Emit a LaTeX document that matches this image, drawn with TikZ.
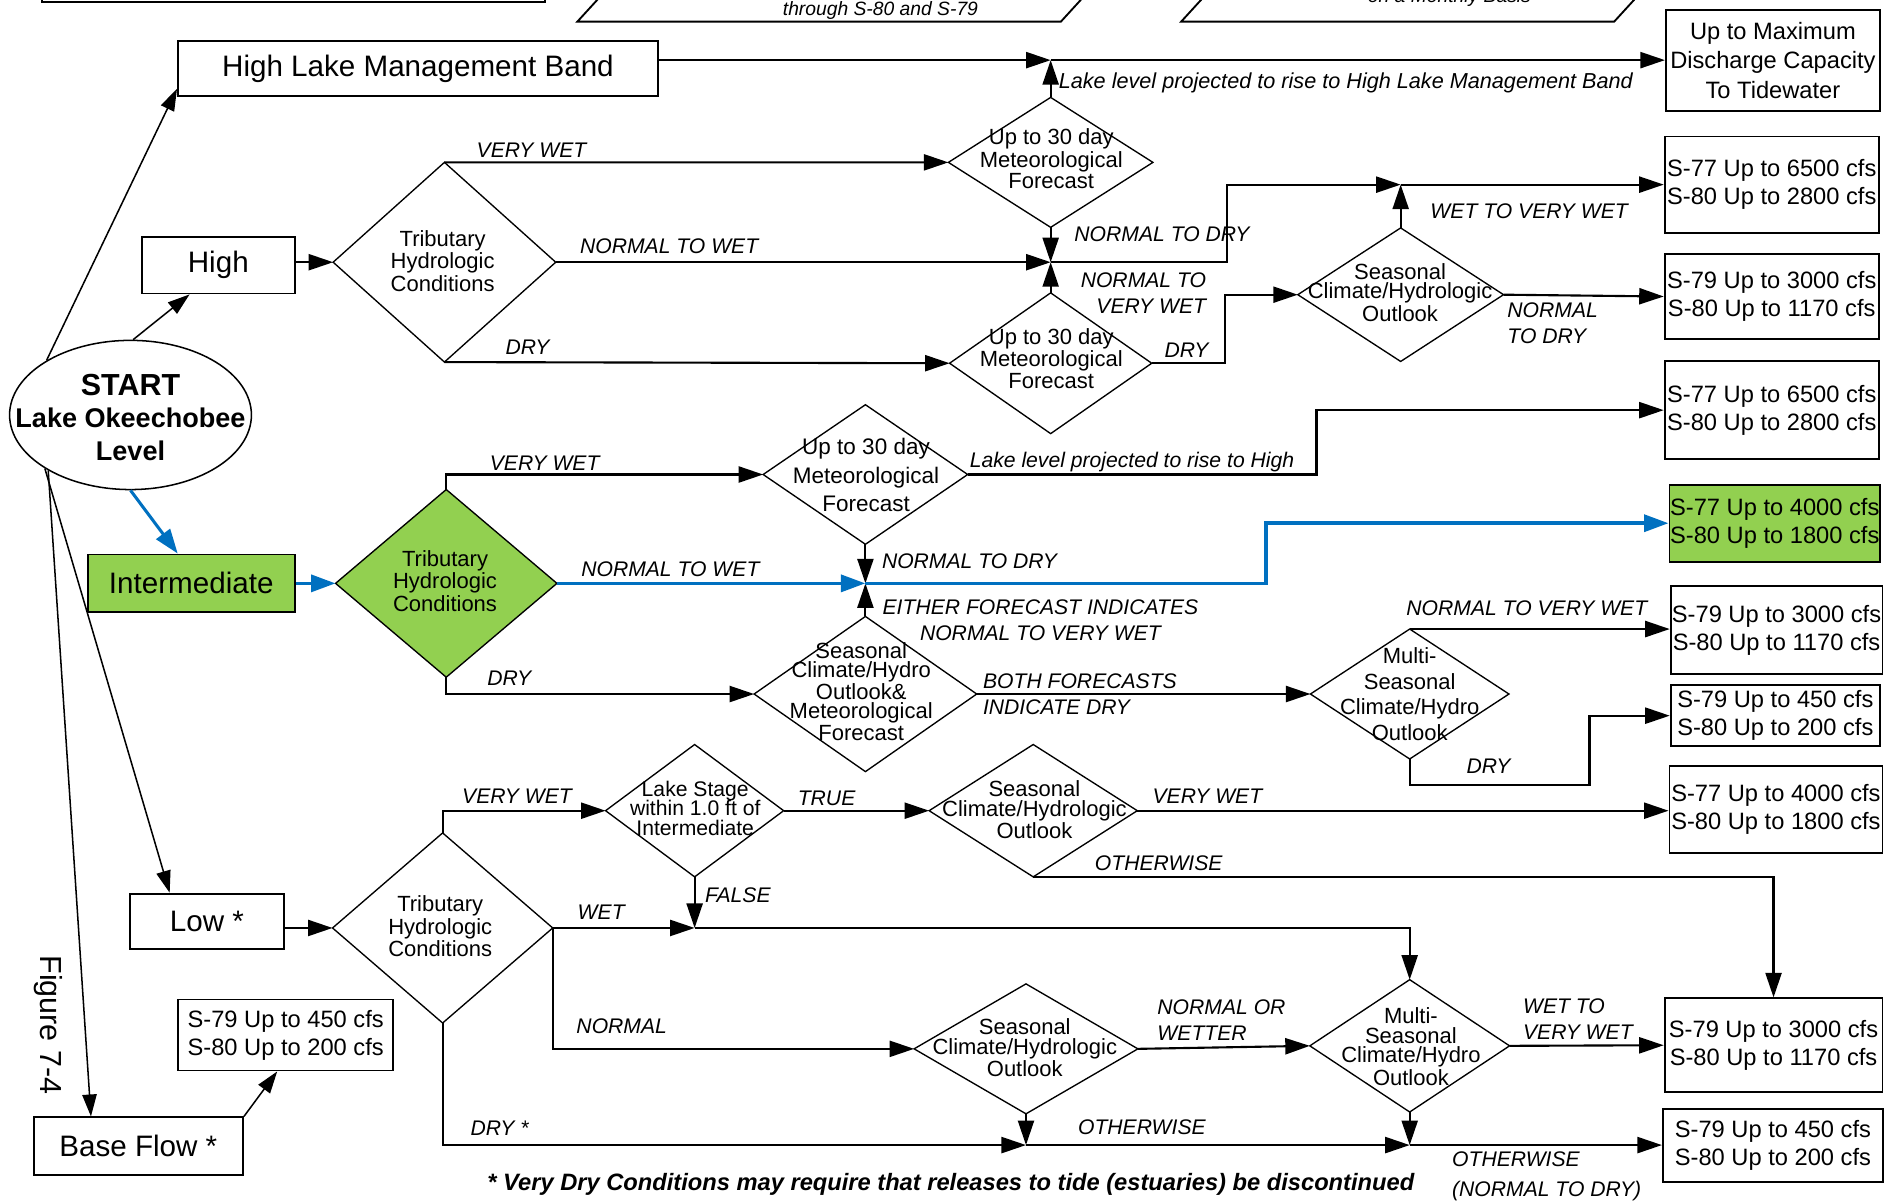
\documentclass[tikz,border=0pt]{standalone}
\usepackage{fontspec}
\setmainfont{Liberation Sans}
\usetikzlibrary{arrows.meta, shapes.geometric}

\definecolor{lakegreen}{HTML}{92D050}
\definecolor{lakeblue}{HTML}{0070C0}

\begin{document}
\begin{tikzpicture}[
  x=0.025cm, y=-0.025cm,
  levelbox/.style={rectangle, draw, line width=1.1pt, inner sep=0pt, align=center, font=\fontsize{17.5}{20}\selectfont},
  outbox/.style={rectangle, draw, line width=1.1pt, inner sep=0pt, align=center, font=\fontsize{14}{16.4}\selectfont},
  decision/.style={diamond, draw, line width=0.8pt, inner sep=0pt, outer sep=0pt},
  dtext/.style={align=center, inner sep=0pt, font=\fontsize{13}{11.6}\selectfont},
  cond/.style={anchor=west, inner sep=0pt, align=left, font=\fontsize{12.5}{15.5}\selectfont\itshape},
  arrow/.style={-{Triangle[length=14.5pt, width=9.5pt]}, line width=1.25pt},
  flow/.style={-{Triangle[length=14.5pt, width=10pt]}, line width=2.2pt, lakeblue},
  startarrow/.style={-{Triangle[length=13pt, width=8.5pt]}, line width=0.9pt},
  cutshape/.style={draw, line width=1.1pt}
]
\useasboundingbox (0,0) rectangle (1568,999);
\clip (0,0) rectangle (1568,999);

% Shapes cut off at the top edge.
\draw[cutshape] (35,-40) rectangle (453,2);
\draw[cutshape] (480,18) -- (882,18) -- (935,-40) -- (533,-40) -- cycle;
\draw[cutshape] (982,18) -- (1342,18) -- (1395,-40) -- (1035,-40) -- cycle;
\node[anchor=base, inner sep=0pt, font=\fontsize{11.4}{13}\selectfont\itshape] (TopNoteA) at (732,13) {through S-80 and S-79};
\node[anchor=base, inner sep=0pt, font=\fontsize{11.4}{13}\selectfont\itshape] (TopNoteB) at (1205,2) {on a Monthly Basis};

% Left column: start and lake level bands.
\node[ellipse, draw, line width=0.9pt, inner sep=0pt, minimum width=5.025cm, minimum height=3.1cm] (Start) at (108.5,345) {};
\node[align=center, inner sep=0pt, font=\fontsize{16}{19.2}\selectfont\bfseries] (StartTxt) at (108.5,347)
  {{\fontsize{18}{19.2}\selectfont START}\\Lake Okeechobee\\Level};
\node[levelbox, minimum width=9.975cm, minimum height=1.15cm] (HighBand) at (347.5,57) {High Lake Management Band};
\node[levelbox, minimum width=3.175cm, minimum height=1.175cm] (High) at (181.5,220.5) {High};
\node[levelbox, fill=lakegreen, minimum width=4.3cm, minimum height=1.2cm] (Inter) at (159,485) {Intermediate};
\node[levelbox, minimum width=3.2cm, minimum height=1.15cm] (Low) at (172,766) {Low *};
\node[levelbox, minimum width=4.35cm, minimum height=1.2cm] (BaseFlow) at (115,953) {Base Flow *};
\node[outbox, minimum width=4.475cm, minimum height=1.475cm] (Base450) at (237.5,860.5) {S-79 Up to 450 cfs\\S-80 Up to 200 cfs};
\node[rotate=-90, inner sep=0pt, font=\fontsize{18}{20}\selectfont] (FigLabel) at (40,852) {Figure 7-4};

% Decision diamonds, High band.
\node[decision, minimum width=4.625cm, minimum height=4.15cm] (TribHigh) at (369.5,218) {};
\node[dtext] (TribHighTxt) at (368,217) {Tributary\\Hydrologic\\Conditions};
\node[decision, minimum width=4.25cm, minimum height=2.7cm] (MetHighA) at (873.5,135) {};
\node[dtext] (MetHighATxt) at (874,132) {Up to 30 day\\Meteorological\\Forecast};
\node[decision, minimum width=4.2cm, minimum height=2.925cm] (MetHighB) at (873.5,302) {};
\node[dtext] (MetHighBTxt) at (874,298) {Up to 30 day\\Meteorological\\Forecast};
\node[decision, minimum width=4.275cm, minimum height=2.775cm] (SeasHigh) at (1164.5,245) {};
\node[dtext] (SeasHighTxt) at (1164,243) {Seasonal\\Climate/Hydrologic\\Outlook};

% Decision diamonds, Intermediate band.
\node[decision, fill=lakegreen, minimum width=4.6cm, minimum height=3.9cm] (TribInter) at (371,485) {};
\node[dtext] (TribInterTxt) at (370,483) {Tributary\\Hydrologic\\Conditions};
\node[decision, minimum width=4.25cm, minimum height=2.9cm] (MetInter) at (719.5,394.5) {};
\node[dtext, font=\fontsize{13.3}{17}\selectfont] (MetInterTxt) at (720,395) {Up to 30 day\\Meteorological\\Forecast};
\node[decision, minimum width=4.625cm, minimum height=3.225cm] (SeasMetInter) at (719.5,577) {};
\node[dtext, font=\fontsize{13}{11.2}\selectfont] (SeasMetInterTxt) at (716,575) {Seasonal\\Climate/Hydro\\Outlook\&\\Meteorological\\Forecast};
\node[decision, minimum width=4.125cm, minimum height=2.7cm] (MultiInter) at (1172,577) {};
\node[dtext, font=\fontsize{13}{15.2}\selectfont] (MultiInterTxt) at (1172,577) {Multi-\\Seasonal\\Climate/Hydro\\Outlook};

% Decision diamonds, Low band.
\node[decision, minimum width=4.575cm, minimum height=3.95cm] (TribLow) at (368,771.5) {};
\node[dtext] (TribLowTxt) at (366,770) {Tributary\\Hydrologic\\Conditions};
\node[decision, minimum width=3.7cm, minimum height=2.75cm] (StageLow) at (577.5,674) {};
\node[dtext, font=\fontsize{12.5}{11.7}\selectfont] (StageLowTxt) at (578,672) {Lake Stage\\within 1.0 ft of\\Intermediate};
\node[decision, minimum width=4.325cm, minimum height=2.75cm] (SeasLowA) at (859,674) {};
\node[dtext] (SeasLowATxt) at (860,673) {Seasonal\\Climate/Hydrologic\\Outlook};
\node[decision, minimum width=4.65cm, minimum height=2.7cm] (SeasLowB) at (853,872) {};
\node[dtext] (SeasLowBTxt) at (852,871) {Seasonal\\Climate/Hydrologic\\Outlook};
\node[decision, minimum width=4.15cm, minimum height=2.75cm] (MultiLow) at (1172,869.5) {};
\node[dtext] (MultiLowTxt) at (1173,870) {Multi-\\Seasonal\\Climate/Hydro\\Outlook};

% Right column: release targets.
\node[outbox, minimum width=4.45cm, minimum height=2.1cm, font=\fontsize{14}{17.4}\selectfont] (MaxDis) at (1474,50) {Up to Maximum\\Discharge Capacity\\To Tidewater};
\node[outbox, minimum width=4.45cm, minimum height=2cm] (High6500) at (1473,153.5) {S-77 Up to 6500 cfs\\S-80 Up to 2800 cfs};
\node[outbox, minimum width=4.45cm, minimum height=1.775cm] (High3000) at (1473,246.5) {S-79 Up to 3000 cfs\\S-80 Up to 1170 cfs};
\node[outbox, minimum width=4.45cm, minimum height=2.04cm] (Inter6500) at (1473,341) {S-77 Up to 6500 cfs\\S-80 Up to 2800 cfs};
\node[outbox, fill=lakegreen, minimum width=4.375cm, minimum height=1.6cm] (Inter4000) at (1475.5,435) {S-77 Up to 4000 cfs\\S-80 Up to 1800 cfs};
\node[outbox, minimum width=4.4cm, minimum height=1.825cm] (Inter3000) at (1477,524) {S-79 Up to 3000 cfs\\S-80 Up to 1170 cfs};
\node[outbox, minimum width=4.35cm, minimum height=1.275cm] (Inter450) at (1476,595) {S-79 Up to 450 cfs\\S-80 Up to 200 cfs};
\node[outbox, minimum width=4.425cm, minimum height=1.825cm] (Low4000) at (1476.5,673) {S-77 Up to 4000 cfs\\S-80 Up to 1800 cfs};
\node[outbox, minimum width=4.525cm, minimum height=1.95cm] (Low3000) at (1474.5,869) {S-79 Up to 3000 cfs\\S-80 Up to 1170 cfs};
\node[outbox, minimum width=4.575cm, minimum height=1.525cm] (Low450) at (1474,952.5) {S-79 Up to 450 cfs\\S-80 Up to 200 cfs};

% Junction points where branches merge.
\coordinate (J0) at (873.5,50);
\coordinate (J1) at (873.5,218);
\coordinate (J2) at (1164.5,153.5);
\coordinate (J3) at (719.5,485);
\coordinate (J4) at (577.5,771.5);
\coordinate (J5) at (853,952);
\coordinate (J6) at (1172,952);

% Edges from the start ellipse.
\draw[startarrow] (Start.147) -- ([yshift=5pt]HighBand.south west);
\draw[startarrow] (Start.88) -- ([xshift=-17pt]High.south);
\draw[flow, line width=1.8pt] (Start.south) -- ([xshift=-8pt]Inter.north);
\draw[startarrow] (Start.212) -- ([xshift=-22pt]Low.north);
\draw[startarrow] (Start.214) -- ([xshift=-28pt]BaseFlow.north);
\draw[startarrow] (BaseFlow.north east) -- ([xshift=-5pt]Base450.south);

% High band edges.
\draw[arrow] (HighBand.east |- J0) -- (J0);
\draw[arrow] (J0) -- (MaxDis.west);
\draw[arrow] (MetHighA.north) -- (J0);
\draw[arrow] (High.east |- TribHigh.west) -- (TribHigh.west);
\draw[arrow] (TribHigh.north) -- (MetHighA.west);
\draw[arrow] (TribHigh.east) -- (J1);
\draw[arrow] (TribHigh.south) -- (MetHighB.west);
\draw[arrow] (MetHighA.south) -- (J1);
\draw[arrow] (MetHighB.north) -- (J1);
\draw[arrow] (J1) -- ++(146.5,0) |- (J2);
\draw[arrow] (SeasHigh.north) -- (J2);
\draw[arrow] (J2) -- (High6500.west);
\draw[arrow] (MetHighB.east) -- ++(61,0) |- (SeasHigh.west);
\draw[arrow] (SeasHigh.east) -- (High3000.west);

% Intermediate band edges.
\draw[flow] (Inter.east) -- (TribInter.west);
\draw[arrow] (TribInter.north) |- (MetInter.west);
\draw[arrow] (MetInter.east) -- ++(290,0) |- (Inter6500.west);
\draw[flow] (TribInter.east) -- (J3);
\draw[arrow] (MetInter.south) -- (J3);
\draw[arrow] (SeasMetInter.north) -- (J3);
\draw[flow] (J3) -- ++(333,0) |- (Inter4000.west);
\draw[arrow] (TribInter.south) |- (SeasMetInter.west);
\draw[arrow] (SeasMetInter.east) -- (MultiInter.west);
\draw[arrow] (MultiInter.north) -- (MultiInter.north -| Inter3000.west);
\draw[arrow] (MultiInter.south) -- ++(0,21.5) -- ++(149.5,0) |- (Inter450.west);

% Low band edges.
\draw[arrow] (Low.east |- TribLow.west) -- (TribLow.west);
\draw[arrow] (TribLow.north) |- (StageLow.west);
\draw[arrow] (StageLow.east) -- (SeasLowA.west);
\draw[arrow] (SeasLowA.east) -- (SeasLowA.east -| Low4000.west);
\draw[arrow] (SeasLowA.south) -| (Low3000.north);
\draw[arrow] (StageLow.south) -- (J4);
\draw[arrow] (TribLow.east) -- (J4);
\draw[arrow] (J4) -| (MultiLow.north);
\draw[arrow] (TribLow.east) |- (SeasLowB.west);
\draw[arrow] (SeasLowB.east) -- (MultiLow.west);
\draw[arrow] (MultiLow.east) -- (Low3000.west);
\draw[arrow] (TribLow.south) |- (J5);
\draw[arrow] (SeasLowB.south) -- (J5);
\draw[arrow] (J5) -- (J6);
\draw[arrow] (MultiLow.south) -- (J6);
\draw[arrow] (J6) -- (J6 -| Low450.west);

% Branch labels.
\node[cond, font=\fontsize{12.8}{15.5}\selectfont\itshape] (HighBandRise) at (880,69) {Lake level projected to rise to High Lake Management Band};
\node[cond] (HighVeryWet) at (396,125) {VERY WET};
\node[cond] (HighNormWet) at (482,205) {NORMAL TO WET};
\node[cond] (HighDry) at (420,289) {DRY};
\node[cond] (HighNormDry) at (893,195) {NORMAL TO DRY};
\node[cond, anchor=east, align=right] (HighNormVeryWet) at (1003,244) {NORMAL TO\\VERY WET};
\node[cond] (HighMetDry) at (968,291) {DRY};
\node[cond] (HighWetVeryWet) at (1189,176) {WET TO VERY WET};
\node[cond] (HighSeasDry) at (1253,269) {NORMAL\\TO DRY};

\node[cond] (InterVeryWet) at (407,385) {VERY WET};
\node[cond] (InterRise) at (806,384) {Lake level projected to rise to High};
\node[cond] (InterNormWet) at (483,473) {NORMAL TO WET};
\node[cond] (InterNormDry) at (733,467) {NORMAL TO DRY};
\node[cond, anchor=center, align=center] (InterEither) at (865,515.5) {EITHER FORECAST INDICATES\\NORMAL TO VERY WET};
\node[cond] (InterDry) at (405,564) {DRY};
\node[cond] (InterBoth) at (817,577) {BOTH FORECASTS\\INDICATE DRY};
\node[cond] (InterMultiWet) at (1169,506) {NORMAL TO VERY WET};
\node[cond] (InterMultiDry) at (1219,637) {DRY};

\node[cond] (LowVeryWet) at (384,662) {VERY WET};
\node[cond] (LowTrue) at (663,664) {TRUE};
\node[cond] (LowSeasWet) at (958,662) {VERY WET};
\node[cond] (LowSeasOther) at (910,718) {OTHERWISE};
\node[cond] (LowFalse) at (586,744) {FALSE};
\node[cond] (LowWet) at (480,758) {WET};
\node[cond] (LowNormal) at (479,853) {NORMAL};
\node[cond] (LowWetter) at (962,848) {NORMAL OR\\WETTER};
\node[cond] (LowMultiWet) at (1266,847) {WET TO\\VERY WET};
\node[cond] (LowDry) at (391,938) {DRY *};
\node[cond] (LowOtherA) at (896,937) {OTHERWISE};
\node[cond] (LowOtherB) at (1207,964) {OTHERWISE};
\node[cond] (LowOtherC) at (1207,990) {(NORMAL TO DRY)};

% Footnote
\node[anchor=west, inner sep=0pt, font=\fontsize{14}{16}\selectfont\bfseries\itshape] (Footnote) at (405,985)
  {* Very Dry Conditions may require that releases to tide (estuaries) be discontinued};

\end{tikzpicture}
\end{document}
